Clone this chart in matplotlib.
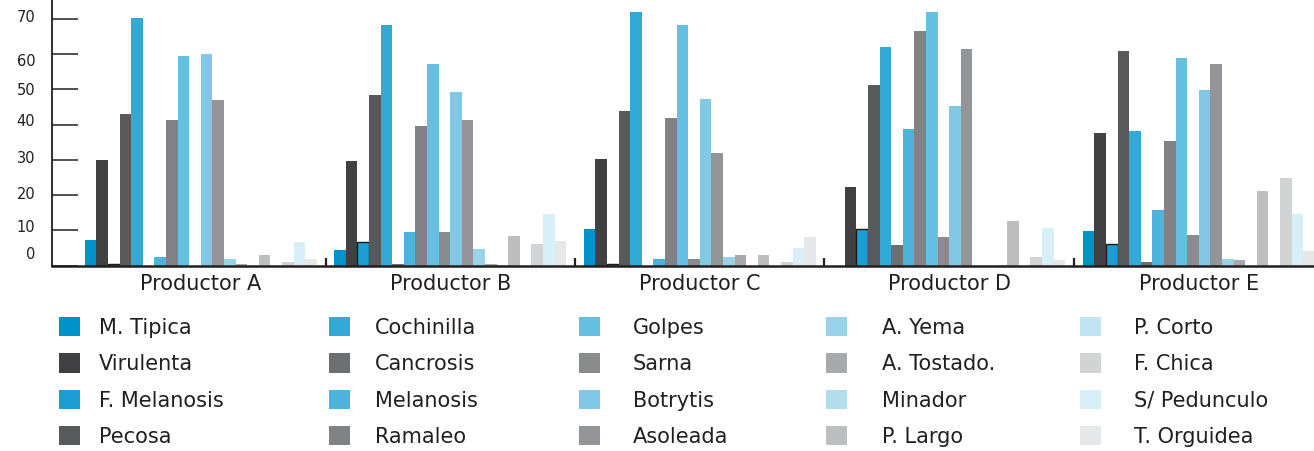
import numpy as np
import matplotlib
matplotlib.use('Agg')
import matplotlib.pyplot as plt
from matplotlib.patches import Patch
from matplotlib.transforms import ScaledTranslation

plt.rcParams['font.family'] = ['DejaVu Sans']

productores = ['Productor A', 'Productor B', 'Productor C', 'Productor D', 'Productor E']

defectos = ['M. Tipica', 'Virulenta', 'F. Melanosis', 'Pecosa',
            'Cochinilla', 'Cancrosis', 'Melanosis', 'Ramaleo',
            'Golpes', 'Sarna', 'Botrytis', 'Asoleada',
            'A. Yema', 'A. Tostado.', 'Minador', 'P. Largo',
            'P. Corto', 'F. Chica', 'S/ Pedunculo', 'T. Orguidea']

colores = ['#0093c9', '#414042', '#1b9ed2', '#58595b',
           '#33aad5', '#6d6e71', '#4cb3da', '#808285',
           '#66c0e1', '#8a8b8d', '#80c8e4', '#939598',
           '#99d3ea', '#a7a9ac', '#b3def0', '#bcbec0',
           '#c0e4f3', '#d1d3d4', '#d9eff7', '#e6e7e8']

# porcentaje por defecto, una lista por productor (A..E)
prod_a = [7.2, 30.0, 0.4, 43.0, 70.3, 0.0, 2.5, 41.4, 59.5, 0.0,
          60.1, 47.0, 2.0, 0.5, 0.0, 3.1, 0.0, 1.1, 6.8, 2.0]
prod_b = [4.4, 29.7, 6.8, 48.4, 68.2, 0.5, 9.5, 39.6, 57.1, 9.5,
          49.1, 41.3, 4.7, 0.4, 0.1, 8.4, 0.0, 6.1, 14.6, 7.0]
prod_c = [10.4, 30.2, 0.6, 43.8, 71.9, 0.0, 1.9, 41.8, 68.2, 1.9,
          47.2, 31.9, 2.5, 3.0, 0.0, 3.0, 0.0, 1.0, 5.0, 8.1]
prod_d = [0.0, 22.3, 10.4, 51.2, 62.0, 5.9, 38.7, 66.5, 71.9, 8.1,
          45.2, 61.4, 0.0, 0.0, 0.2, 12.7, 0.0, 2.5, 10.7, 1.6]
prod_e = [9.8, 37.6, 6.1, 60.8, 38.2, 1.0, 15.8, 35.3, 58.9, 8.7,
          49.7, 57.1, 1.9, 1.6, 0.0, 21.2, 0.0, 24.8, 14.6, 4.2]

datos = np.array([prod_a, prod_b, prod_c, prod_d, prod_e])

W, H = 1314, 451
fig = plt.figure(figsize=(W / 100, H / 100), dpi=100)
ax = fig.add_axes([52 / W, 185.3 / H, (W - 52) / W, 265.7 / H])

n = len(defectos)
ancho = 0.0465
inicio = 0.035
grupos = np.arange(len(productores))
for j in range(n):
    x = grupos + inicio + ancho * (j + 0.5)
    borde, lw = 'none', 0
    if defectos[j] == 'F. Melanosis':
        borde, lw = '#1a1a1a', 1.0
    ax.bar(x, datos[:, j], width=ancho, color=colores[j],
           edgecolor=borde, linewidth=lw)

ax.set_xlim(-24 / 249.5, -24 / 249.5 + (W - 52) / 249.5)
ax.set_ylim(0, 75.3)

ax.set_yticks(np.arange(0, 71, 10))
ax.tick_params(axis='y', direction='in', length=19, width=1.1,
               pad=12, labelsize=10.5, colors='#231f20')
# las etiquetas del eje y no quedan exactamente sobre cada marca
desplaz = [13, 4, 2, 3, 5, 0, -6, 3]
for lbl, dy in zip(ax.get_yticklabels(), desplaz):
    lbl.set_transform(lbl.get_transform() +
                      ScaledTranslation(0, dy / 100, fig.dpi_scale_trans))

ax.set_xticks(grupos + 0.5)
ax.set_xticklabels(productores, fontsize=15, color='#231f20')
ax.tick_params(axis='x', which='major', length=0, pad=6)
ax.set_xticks(grupos[1:], minor=True)
ax.tick_params(axis='x', which='minor', direction='in', length=6, width=1.6,
               color='#231f20')

for s in ['top', 'right']:
    ax.spines[s].set_visible(False)
ax.spines['left'].set_linewidth(1.3)
ax.spines['bottom'].set_linewidth(1.8)
ax.spines['left'].set_color('#231f20')
ax.spines['bottom'].set_color('#231f20')

# leyenda: cinco columnas de cuatro filas
col_x = [59, 329, 579, 826, 1080]
col_pad = [0.89, 1.17, 1.55, 1.64, 1.55]
for c in range(5):
    idx = range(c * 4, (c + 1) * 4)
    h = [Patch(facecolor=colores[j]) for j in idx]
    fig.legend(handles=h, labels=[defectos[j] for j in idx],
               loc='upper left', bbox_to_anchor=(col_x[c] / W, (H - 317) / H),
               bbox_transform=fig.transFigure, frameon=False, fontsize=15,
               borderpad=0, borderaxespad=0, handlelength=1.03,
               handleheight=1.03, handletextpad=col_pad[c],
               labelspacing=0.76, labelcolor='#231f20')

fig.savefig('out.png', dpi=100)
